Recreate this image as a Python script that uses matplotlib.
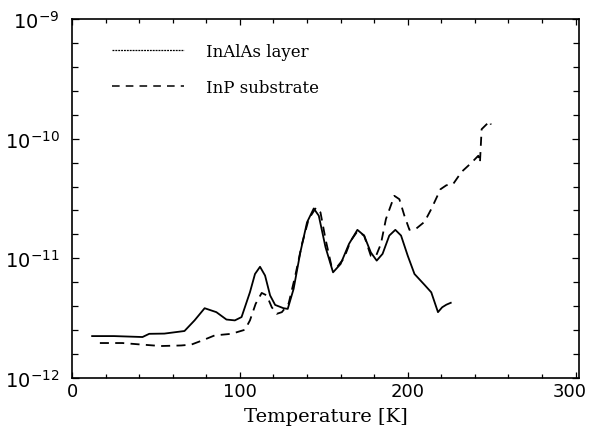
import matplotlib
matplotlib.use("Agg")
import matplotlib.pyplot as plt
import matplotlib.transforms as mtransforms
import numpy as np
from matplotlib.lines import Line2D
from matplotlib.ticker import FixedLocator, LogLocator, NullFormatter, LogFormatterMathtext

matplotlib.rcParams.update({'font.size': 12, 'font.family': 'DejaVu Sans'})

# InAlAs layer (solid)
t_layer = [12, 25, 42, 46, 55, 67, 73, 79, 86, 92, 97, 101, 106, 109, 112, 115, 118, 121, 126,
           128.5, 132, 136, 140, 144, 147, 151, 155.5, 160, 165, 170, 174, 178, 181.5, 185, 189,
           192.6, 196, 200, 204, 210, 214, 218, 220.5, 223, 225.6]
s_layer = [2.24e-12, 2.24e-12, 2.20e-12, 2.34e-12, 2.35e-12, 2.47e-12, 3.03e-12, 3.83e-12,
           3.55e-12, 3.08e-12, 3.03e-12, 3.23e-12, 5.21e-12, 7.4e-12, 8.5e-12, 7.18e-12,
           4.9e-12, 4.08e-12, 3.83e-12, 3.78e-12, 5.55e-12, 1.12e-11, 2.0e-11, 2.61e-11,
           2.27e-11, 1.24e-11, 7.64e-12, 8.97e-12, 1.32e-11, 1.73e-11, 1.55e-11, 1.12e-11,
           9.57e-12, 1.09e-11, 1.55e-11, 1.73e-11, 1.55e-11, 1.05e-11, 7.4e-12, 6.0e-12,
           5.2e-12, 3.55e-12, 3.9e-12, 4.1e-12, 4.25e-12]

# InP substrate (dashed)
t_sub = [16.6, 30, 42, 53, 65, 71, 78, 85, 95, 103, 106, 109.4, 113, 116, 119, 122, 125, 129,
         133, 137, 141, 145.4, 148, 151, 154.5, 158, 162, 166, 170, 174, 178, 181, 184, 187,
         192, 195, 198, 201, 205, 210, 214, 219.5, 223, 227, 232, 238, 242, 243, 244, 247,
         249, 249.5]
s_sub = [1.96e-12, 1.96e-12, 1.90e-12, 1.85e-12, 1.87e-12, 1.90e-12, 2.07e-12, 2.27e-12,
         2.34e-12, 2.53e-12, 3.03e-12, 4.17e-12, 5.14e-12, 4.9e-12, 3.9e-12, 3.44e-12,
         3.55e-12, 4.17e-12, 7.18e-12, 1.32e-11, 2.13e-11, 2.66e-11, 2.42e-11, 1.45e-11,
         8.7e-12, 8.5e-12, 1.0e-11, 1.4e-11, 1.68e-11, 1.55e-11, 1.05e-11, 1.04e-11,
         1.32e-11, 2.13e-11, 3.33e-11, 3.12e-11, 2.27e-11, 1.73e-11, 1.77e-11, 2.02e-11,
         2.58e-11, 3.78e-11, 4.08e-11, 4.17e-11, 5.27e-11, 6.3e-11, 7.2e-11, 6.3e-11,
         1.2e-10, 1.32e-10, 1.40e-10, 1.31e-10]

fig = plt.figure()
fig.set_size_inches(5.91, 4.35)
ax = fig.add_axes([72/591, 1-379/435, (579-72)/591, (379-20)/435])

ax.plot(t_layer, s_layer, '-', color='black', lw=1.3)
ax.plot(t_sub, s_sub, color='black', lw=1.3, dashes=(5, 3.5))

ax.set_yscale('log')
ax.set_xlim(0, 302)
ax.set_ylim(1e-12, 1e-9)

ax.yaxis.set_major_locator(LogLocator(base=10))
ax.yaxis.set_major_formatter(LogFormatterMathtext())
ax.yaxis.set_minor_locator(FixedLocator(10 ** np.arange(-12, -9, 0.2)))
ax.yaxis.set_minor_formatter(NullFormatter())
ax.set_xticks([0, 100, 200, 300])
ax.set_xticks(np.arange(0, 301, 20), minor=True)

ax.tick_params(which='both', direction='in', top=True, right=True, width=0.9)
ax.tick_params(axis='y', which='major', length=5, labelsize=14, pad=9)
ax.tick_params(axis='y', which='minor', length=4.5)
ax.tick_params(axis='x', which='major', length=4.5, labelsize=13, pad=3)
ax.tick_params(axis='x', which='minor', length=3)
for s in ax.spines.values():
    s.set_linewidth(1.2)

fig.canvas.draw()
xlabels = ax.get_xticklabels()
xlabels[-1].set_transform(xlabels[-1].get_transform() +
                          mtransforms.ScaledTranslation(-6/100, 0, fig.dpi_scale_trans))

ax.set_xlabel('Temperature [K]', family='DejaVu Serif', fontsize=14, labelpad=5)

handles = [Line2D([], [], color='black', lw=0.9, dashes=(1.5, 0.8)),
           Line2D([], [], color='black', lw=1.1, dashes=(5, 4))]
ax.legend(handles, ['InAlAs layer', 'InP substrate'], loc='upper left', frameon=False,
          bbox_to_anchor=(0.05, 0.975), handlelength=4.3, handletextpad=1.3,
          labelspacing=1.15, prop={'family': 'DejaVu Serif', 'size': 12})

plt.savefig('out.png', dpi=100)
